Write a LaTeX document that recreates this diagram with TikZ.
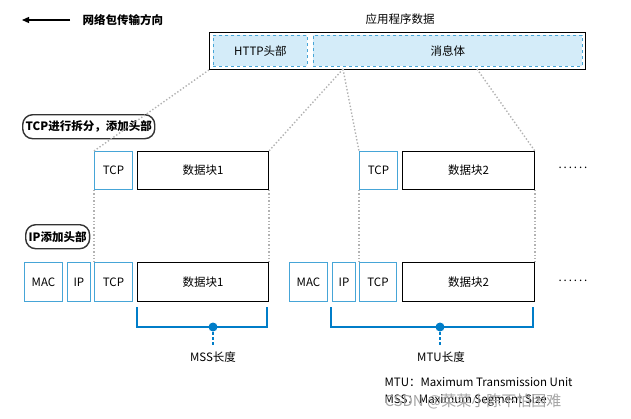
\documentclass[tikz,border=0pt]{standalone}
\usepackage{fontspec}
\setmainfont{Noto Sans CJK SC}
\usetikzlibrary{arrows.meta}
\definecolor{bl}{RGB}{70,165,215}
\definecolor{bk}{RGB}{0,125,200}
\definecolor{lf}{RGB}{212,236,249}
\begin{document}
\begin{tikzpicture}[x=1pt,y=-1pt,font=\fontsize{11.5}{12}\selectfont,
  hb/.style={draw=bl,line width=0.9pt,inner sep=0pt},
  db/.style={draw=black,line width=0.9pt,inner sep=0pt},
  dl/.style={draw=gray!60,dotted,line width=1.4pt},
  lab/.style={draw=black!80,line width=1.4pt,rounded corners=10pt,font=\fontsize{11.5}{12}\selectfont\bfseries,inner sep=3pt,minimum height=24pt}]
\useasboundingbox (0,0) rectangle (631,418);
\coordinate (a1) at (22,20); \coordinate (a2) at (70,20);
\draw[line width=1.2pt,-{Triangle[length=7pt,width=6pt]}] (a2) -- (a1);
\node[anchor=west,font=\fontsize{11.5}{12}\selectfont\bfseries] (dir) at (79,20) {网络包传输方向};
\node (app) at (400,19) {应用程序数据};
\node[db,minimum width=376pt,minimum height=37pt,anchor=north west] (outer) at (209,32) {};
\node[draw=bl,dashed,fill=lf,line width=0.9pt,minimum width=94pt,minimum height=31pt,anchor=north west,inner sep=0pt] (http) at (213,35) {HTTP头部};
\node[draw=bl,dashed,fill=lf,line width=0.9pt,minimum width=269pt,minimum height=31pt,anchor=north west,inner sep=0pt] (body) at (313,35) {消息体};
\node[lab,anchor=north west] (l1) at (22,114) {TCP进行拆分，添加头部};
% row 1
\node[hb,minimum width=38pt,minimum height=38pt,anchor=north west] (t1) at (94,151) {TCP};
\node[db,minimum width=131pt,minimum height=38pt,anchor=north west] (d1) at (137,151) {数据块1};
\node[hb,minimum width=38pt,minimum height=38pt,anchor=north west] (t2) at (359,151) {TCP};
\node[db,minimum width=132pt,minimum height=38pt,anchor=north west] (d2) at (402,151) {数据块2};
\node (dots1) at (573,168) {.\,.\,.\,.\,.\,.};
\draw[dl] (outer.south west) -- (t1.north west);
\draw[dl] (343,69) -- (d1.north east);
\draw[dl] (343,69) -- (t2.north west);
\draw[dl] (477,69) -- (d2.north east);
\node[lab,anchor=north west] (l2) at (25,224) {IP添加头部};
% row 2
\node[hb,minimum width=38pt,minimum height=39pt,anchor=north west] (m1) at (24,262) {MAC};
\node[hb,minimum width=23pt,minimum height=39pt,anchor=north west] (i1) at (67,262) {IP};
\node[hb,minimum width=38pt,minimum height=39pt,anchor=north west] (tt1) at (94,262) {TCP};
\node[db,minimum width=131pt,minimum height=39pt,anchor=north west] (dd1) at (137,262) {数据块1};
\node[hb,minimum width=38pt,minimum height=39pt,anchor=north west] (m2) at (289,262) {MAC};
\node[hb,minimum width=23pt,minimum height=39pt,anchor=north west] (i2) at (332,262) {IP};
\node[hb,minimum width=37pt,minimum height=39pt,anchor=north west] (tt2) at (359,262) {TCP};
\node[db,minimum width=132pt,minimum height=39pt,anchor=north west] (dd2) at (402,262) {数据块2};
\node (dots2) at (573,281) {.\,.\,.\,.\,.\,.};
\draw[dl] (t1.south west) -- (tt1.north west);
\draw[dl] (d1.south east) -- (dd1.north east);
\draw[dl] (t2.south west) -- (tt2.north west);
\draw[dl] (d2.south east) -- (dd2.north east);
% brackets
\coordinate (b1) at (213,327); \coordinate (b2) at (440,327);
\draw[bk,line width=1.8pt] (137,307) -- (137,327) -- (267,327) -- (267,307);
\draw[bk,line width=1.8pt] (331,307) -- (331,327) -- (533,327) -- (533,307);
\fill[bk] (b1) circle (4.5pt); \fill[bk] (b2) circle (4.5pt);
\coordinate (e1) at (213,346); \coordinate (e2) at (440,346);
\draw[bk,line width=1.6pt,dash pattern=on 3pt off 2pt] (b1) -- (e1);
\draw[bk,line width=1.6pt,dash pattern=on 3pt off 2pt] (b2) -- (e2);
\node (mss) at (213,357) {MSS长度};
\node (mtu) at (441,357) {MTU长度};
\node[anchor=west] (lg1) at (381,382) {MTU：Maximum Transmission Unit};
\node[anchor=west] (lg2) at (381,400) {MSS：Maximum Segment Size};
\node[anchor=west,text=black!35,font=\fontsize{15}{16}\selectfont] (wm) at (381,401) {CSDN @菜菜小陈不怕困难};
\end{tikzpicture}
\end{document}
